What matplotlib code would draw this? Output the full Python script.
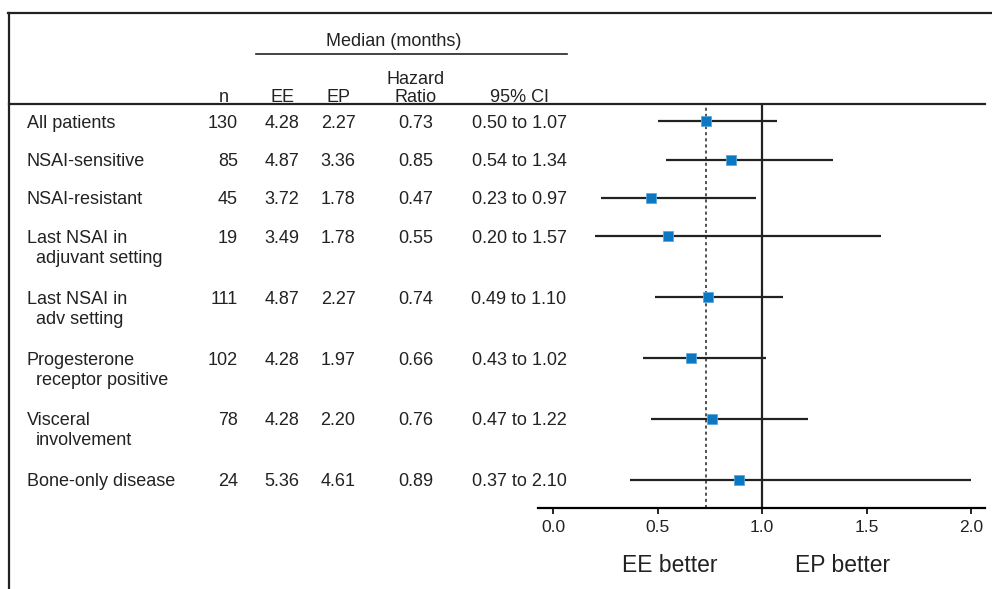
import numpy as np
import matplotlib.pyplot as plt
from matplotlib.lines import Line2D
from matplotlib.transforms import blended_transform_factory

# --- data ---
subgroups = ["All patients", "NSAI-sensitive", "NSAI-resistant",
             "Last NSAI in\nadjuvant setting", "Last NSAI in\nadv setting",
             "Progesterone\nreceptor positive", "Visceral\ninvolvement",
             "Bone-only disease"]
n_pts = [130, 85, 45, 19, 111, 102, 78, 24]
median_ee = [4.28, 4.87, 3.72, 3.49, 4.87, 4.28, 4.28, 5.36]
median_ep = [2.27, 3.36, 1.78, 1.78, 2.27, 1.97, 2.20, 4.61]
hr = [0.73, 0.85, 0.47, 0.55, 0.74, 0.66, 0.76, 0.89]
ci_lo = [0.50, 0.54, 0.23, 0.20, 0.49, 0.43, 0.47, 0.37]
ci_hi = [1.07, 1.34, 0.97, 1.57, 1.10, 1.02, 1.22, 2.10]
xticks = [0.0, 0.5, 1.0, 1.5, 2.0]

plt.rcParams['font.family'] = ['Liberation Sans', 'DejaVu Sans']
W, H = 992, 589
fig = plt.figure(figsize=(W / 100, H / 100), dpi=100)

def fx(px):
    return px / W

def fy(py):
    return 1 - py / H

# row positions: two-line labels take more room
row_y = [0.0]
for lab in subgroups[:-1]:
    row_y.append(row_y[-1] + (1.58 if "\n" in lab else 1.0))
row_y = np.array(row_y)

# forest axes
ax = fig.add_axes([fx(538), fy(508), fx(985) - fx(538), fy(104) - fy(508)])
ax.set_xlim(-0.072, 2.067)
ax.set_ylim((508 - 121) / 38.5, (104 - 121) / 38.5)
for s in ['top', 'right', 'left']:
    ax.spines[s].set_visible(False)
ax.spines['bottom'].set_linewidth(1.6)
ax.set_yticks([])
ax.set_xticks(xticks)
ax.set_xticklabels([f"{t:.1f}" for t in xticks], fontsize=12.5, color='#222222')
ax.tick_params(axis='x', length=4, width=1.2, pad=5)

ax.axvline(1.0, color='#222222', lw=1.6)
ax.axvline(hr[0], color='#222222', lw=1.1, ls=(0, (2, 2)))
hi_clip = np.minimum(ci_hi, 2.0)
ax.hlines(row_y, ci_lo, hi_clip, color='#222222', lw=1.6)
ax.plot(hr, row_y, 's', color='#0a78c2', markersize=7,
        markeredgecolor='#5aa8dc', markeredgewidth=0.6, zorder=3)

# table text
tr = blended_transform_factory(fig.transFigure, ax.transData)
fs = 13
line_gap = 20 / 38.5
dy = 2 / 38.5  # nudge text down to sit level with markers
for i, lab in enumerate(subgroups):
    y = row_y[i] + dy
    lines = lab.split("\n")
    ax.text(fx(27), y, lines[0], transform=tr, ha='left', va='center',
            fontsize=fs, color='#222222', clip_on=False)
    if len(lines) > 1:
        ax.text(fx(36), y + line_gap, lines[1], transform=tr, ha='left',
                va='center', fontsize=fs, color='#222222', clip_on=False)
    ax.text(fx(238), y, str(n_pts[i]), transform=tr, ha='right', va='center',
            fontsize=fs, color='#222222', clip_on=False)
    ax.text(fx(282), y, f"{median_ee[i]:.2f}", transform=tr, ha='center',
            va='center', fontsize=fs, color='#222222', clip_on=False)
    ax.text(fx(338), y, f"{median_ep[i]:.2f}", transform=tr, ha='center',
            va='center', fontsize=fs, color='#222222', clip_on=False)
    ax.text(fx(416), y, f"{hr[i]:.2f}", transform=tr, ha='center',
            va='center', fontsize=fs, color='#222222', clip_on=False)
    ax.text(fx(519), y, f"{ci_lo[i]:.2f} to {ci_hi[i]:.2f}", transform=tr,
            ha='center', va='center', fontsize=fs, color='#222222', clip_on=False)

# header
fig.text(fx(394), fy(41), "Median (months)", ha='center', va='center', fontsize=fs, color='#222222')
fig.add_artist(Line2D([fx(256), fx(567)], [fy(54), fy(54)], color='#222222', lw=1.2))
fig.text(fx(416), fy(80), "Hazard", ha='center', va='center', fontsize=fs, color='#222222')
for xp, t in [(224, "n"), (282, "EE"), (338, "EP"), (416, "Ratio"), (519, "95% CI")]:
    fig.text(fx(xp), fy(97), t, ha='center', va='center', fontsize=fs, color='#222222')
fig.add_artist(Line2D([fx(9), fx(985)], [fy(104), fy(104)], color='#222222', lw=1.6))

# frame
fig.add_artist(Line2D([fx(8.5), fx(8.5)], [fy(13), 0], color='#222222', lw=1.6))
fig.add_artist(Line2D([fx(8), 1], [fy(13), fy(13)], color='#222222', lw=1.6))

# direction labels
fig.text(fx(670), fy(566), "EE better", ha='center', va='center', fontsize=16.5, color='#222222')
fig.text(fx(843), fy(566), "EP better", ha='center', va='center', fontsize=16.5, color='#222222')

fig.savefig("out.png", dpi=100)
